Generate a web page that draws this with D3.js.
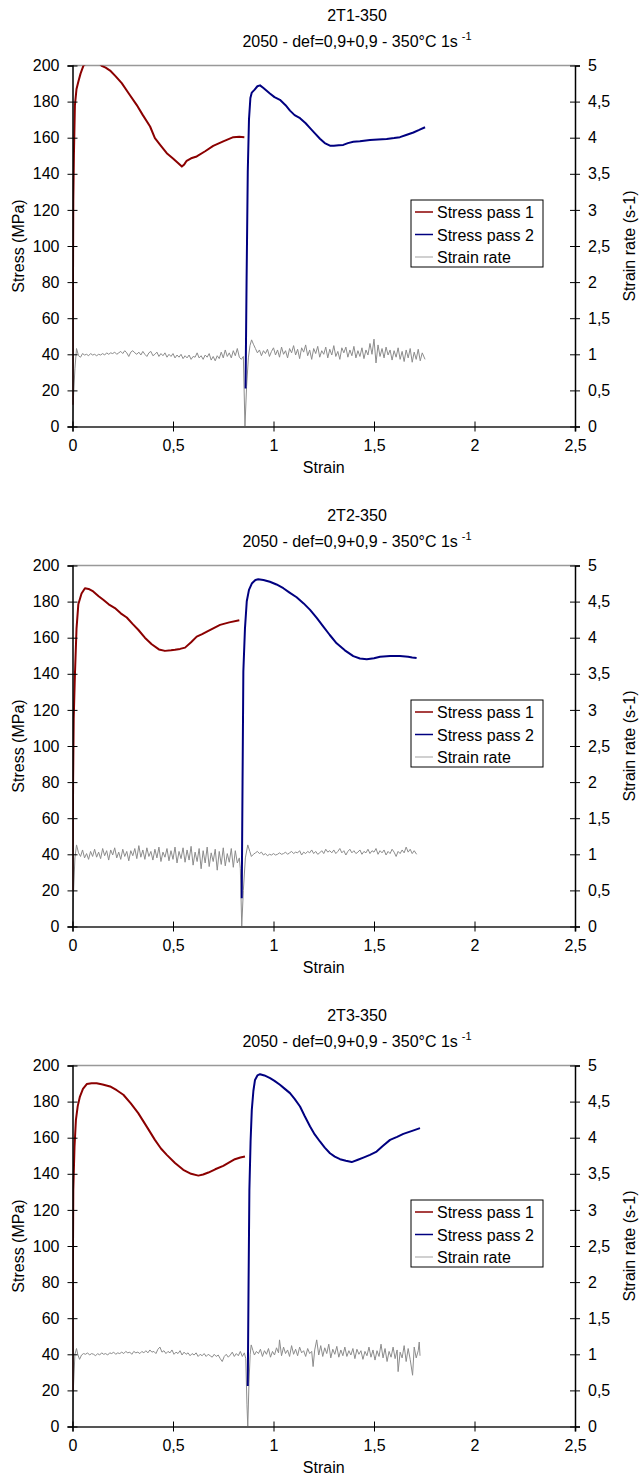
<!DOCTYPE html>
<html><head><meta charset="utf-8">
<script src="https://cdn.jsdelivr.net/npm/d3@7"></script>
<style>
body{margin:0;background:#fff;}
svg{display:block;font-family:"Liberation Sans",Arial,sans-serif;}
</style></head>
<body>
<svg id="chart" width="640" height="1479"></svg>
<script>
// ---------- data ----------
const titles = ["2T1-350", "2T2-350", "2T3-350"];
const subtitleMain = "2050 - def=0,9+0,9 - 350\u00B0C 1s";
const subtitleSup = "-1";
const seriesNames = ["Stress pass 1", "Stress pass 2", "Strain rate"];
const xTicks = [0, 0.5, 1, 1.5, 2, 2.5];
const yTicksLeft = [0, 20, 40, 60, 80, 100, 120, 140, 160, 180, 200];
const yTicksRight = [0, 0.5, 1, 1.5, 2, 2.5, 3, 3.5, 4, 4.5, 5];
const xLabel = "Strain";
const yLabelLeft = "Stress (MPa)";
const yLabelRight = "Strain rate (s-1)";

const c1Stress1 = [[0,12],[0.002,70],[0.004,125],[0.007,150],[0.012,178],[0.02,187],[0.029,191],[0.04,195.5],[0.054,199.8],[0.08,202.5],[0.11,203],[0.135,201],[0.145,199.8],[0.165,198.8],[0.187,197.2],[0.215,194],[0.245,190.2],[0.28,184.5],[0.319,178.2],[0.35,172.5],[0.386,166.2],[0.41,159.8],[0.44,155.5],[0.469,151.4],[0.5,148.5],[0.525,146],[0.544,144],[0.556,145.2],[0.568,147.2],[0.59,148.6],[0.618,149.6],[0.66,152.5],[0.7,155.5],[0.75,158],[0.8,160.3],[0.83,160.5],[0.855,160.3]];
const c1Stress2 = [[0.861,21],[0.866,80],[0.872,141],[0.878,170],[0.885,182],[0.892,185],[0.905,186.5],[0.92,188.5],[0.933,189],[0.95,187.5],[0.982,184.5],[1.005,182.5],[1.032,181],[1.06,178],[1.082,175],[1.105,172.5],[1.132,170.8],[1.16,168],[1.182,165.3],[1.205,162.5],[1.231,159.4],[1.255,157],[1.281,155.6],[1.3,155.5],[1.325,155.8],[1.347,156],[1.37,157],[1.397,157.8],[1.43,158],[1.46,158.5],[1.48,158.7],[1.52,159],[1.563,159.3],[1.6,159.8],[1.629,160.3],[1.66,161.5],[1.696,162.9],[1.725,164.3],[1.754,165.8]];
const c1Rate = [[0,0],[0.004,0.36],[0.012,0.8],[0.02,1.08],[0.03,0.98],[0.04,0.96],[0.05,1.01],[0.06,0.99],[0.07,1.0],[0.08,0.98],[0.09,1.01],[0.1,0.99],[0.11,1.0],[0.12,0.98],[0.13,1.0],[0.14,0.99],[0.15,1.01],[0.16,0.99],[0.17,1.02],[0.18,1.0],[0.19,1.02],[0.2,1.01],[0.21,1.03],[0.22,1.0],[0.23,1.02],[0.24,1.04],[0.25,1.01],[0.26,1.05],[0.27,1.02],[0.28,0.97],[0.29,1.03],[0.3,1.05],[0.31,1.02],[0.32,1.0],[0.33,1.03],[0.34,0.99],[0.35,1.04],[0.36,1.0],[0.37,0.97],[0.38,1.02],[0.39,1.04],[0.4,0.98],[0.41,1.0],[0.42,1.03],[0.43,0.97],[0.44,1.01],[0.45,0.98],[0.46,1.02],[0.47,0.96],[0.48,1.0],[0.49,0.97],[0.5,1.01],[0.51,0.95],[0.52,0.99],[0.53,0.96],[0.54,1.0],[0.55,0.94],[0.56,0.98],[0.57,0.95],[0.58,0.99],[0.59,0.93],[0.6,0.97],[0.61,0.96],[0.62,1.02],[0.63,0.95],[0.64,0.98],[0.65,0.93],[0.66,0.99],[0.67,0.96],[0.68,1.01],[0.69,0.92],[0.7,0.97],[0.71,0.91],[0.72,0.98],[0.73,0.94],[0.74,1.03],[0.75,0.95],[0.76,1.06],[0.77,0.97],[0.78,1.02],[0.79,0.95],[0.8,1.05],[0.81,0.98],[0.82,1.08],[0.83,0.96],[0.84,0.93],[0.85,0.97],[0.858,0],
[0.866,0.55],[0.875,0.95],[0.883,1.12],[0.891,1.2],[0.9,1.14],[0.91,1.08],[0.92,1.02],[0.93,1.06],[0.94,0.98],[0.95,1.05],[0.96,1.01],[0.97,1.07],[0.98,0.97],[0.99,1.04],[1.0,1.09],[1.01,0.99],[1.02,1.06],[1.03,0.96],[1.04,1.1],[1.05,1.0],[1.06,1.05],[1.07,0.95],[1.08,1.08],[1.09,1.02],[1.1,1.12],[1.11,0.99],[1.12,1.07],[1.13,0.94],[1.14,1.09],[1.15,1.03],[1.16,1.13],[1.17,0.98],[1.18,1.06],[1.19,0.93],[1.2,1.08],[1.21,1.01],[1.22,1.11],[1.23,0.96],[1.24,1.05],[1.25,1.0],[1.26,1.1],[1.27,0.95],[1.28,1.07],[1.29,0.99],[1.3,1.12],[1.31,0.97],[1.32,1.04],[1.33,0.93],[1.34,1.09],[1.35,1.02],[1.36,1.1],[1.37,0.96],[1.38,1.06],[1.39,0.98],[1.4,1.11],[1.41,0.95],[1.42,1.05],[1.43,0.97],[1.44,1.09],[1.45,0.94],[1.46,1.06],[1.47,0.99],[1.48,1.15],[1.49,1.0],[1.5,1.21],[1.51,0.88],[1.52,1.13],[1.53,0.97],[1.54,1.08],[1.55,0.95],[1.56,1.1],[1.57,0.99],[1.58,1.06],[1.59,0.92],[1.6,1.05],[1.61,0.96],[1.62,1.09],[1.63,0.93],[1.64,1.04],[1.65,0.9],[1.66,1.06],[1.67,0.95],[1.68,1.08],[1.69,0.89],[1.7,1.03],[1.71,0.93],[1.72,1.07],[1.73,0.91],[1.74,1.02],[1.754,0.93]];

const c2Stress1 = [[0,20],[0.003,80],[0.006,115],[0.012,139.4],[0.02,165],[0.029,178.5],[0.045,184.5],[0.062,187.4],[0.08,187],[0.103,185.6],[0.13,183],[0.153,181],[0.18,178.5],[0.211,176.4],[0.24,173.5],[0.27,171.2],[0.3,167.5],[0.327,164.4],[0.36,160],[0.394,156.4],[0.43,153.5],[0.46,152.7],[0.49,153],[0.51,153.3],[0.535,153.8],[0.56,154.5],[0.59,157.5],[0.618,160.6],[0.645,162],[0.676,163.8],[0.705,165.5],[0.734,167.1],[0.78,168.5],[0.83,169.7]];
const c2Stress2 = [[0.842,15.6],[0.846,80],[0.85,141.4],[0.858,165],[0.867,180.2],[0.878,186.5],[0.892,190],[0.91,192],[0.924,192.4],[0.95,192],[0.982,191],[1.015,189.5],[1.049,187.4],[1.08,185],[1.115,182.4],[1.15,179],[1.182,175.4],[1.215,171],[1.248,166.1],[1.28,161.5],[1.314,156.9],[1.355,153],[1.397,149.8],[1.43,148.5],[1.464,148],[1.5,148.6],[1.53,149.4],[1.58,149.8],[1.629,149.8],[1.67,149.4],[1.69,149],[1.712,148.7]];
const c2Rate = [[0,0],[0.004,0.4],[0.012,0.95],[0.02,1.13],[0.03,1.02],[0.04,0.97],[0.05,1.06],[0.06,0.95],[0.07,1.01],[0.08,0.93],[0.09,1.04],[0.1,0.97],[0.11,1.07],[0.12,0.96],[0.13,1.03],[0.14,0.94],[0.15,1.08],[0.16,0.98],[0.17,1.05],[0.18,0.92],[0.19,1.06],[0.2,0.99],[0.21,1.09],[0.22,0.95],[0.23,1.03],[0.24,0.93],[0.25,1.07],[0.26,0.97],[0.27,1.04],[0.28,0.91],[0.29,1.05],[0.3,0.98],[0.31,1.08],[0.32,0.94],[0.33,1.12],[0.34,0.96],[0.35,1.06],[0.36,0.93],[0.37,1.09],[0.38,0.97],[0.39,1.04],[0.4,0.92],[0.41,1.07],[0.42,0.95],[0.43,1.1],[0.44,0.9],[0.45,1.03],[0.46,0.96],[0.47,1.08],[0.48,0.91],[0.49,1.05],[0.5,0.93],[0.51,1.1],[0.52,0.88],[0.53,1.04],[0.54,0.94],[0.55,1.09],[0.56,0.89],[0.57,1.06],[0.58,0.92],[0.59,1.11],[0.6,0.85],[0.61,1.03],[0.62,0.9],[0.63,1.08],[0.64,0.8],[0.65,1.05],[0.66,0.88],[0.67,1.1],[0.68,0.83],[0.69,1.02],[0.7,0.9],[0.71,1.07],[0.72,0.78],[0.73,1.04],[0.74,0.86],[0.75,1.09],[0.76,0.84],[0.77,1.01],[0.78,0.89],[0.79,1.08],[0.8,0.82],[0.81,1.05],[0.82,0.88],[0.83,0.95],[0.835,0.8],[0.842,0],
[0.85,0.5],[0.86,0.95],[0.872,1.13],[0.882,1.04],[0.89,0.97],[0.9,1.0],[0.91,1.02],[0.92,1.04],[0.93,1.01],[0.94,1.03],[0.95,0.99],[0.96,1.01],[0.97,0.98],[0.98,1.0],[0.99,0.99],[1.0,1.01],[1.01,0.99],[1.02,1.0],[1.03,1.02],[1.04,1.0],[1.05,1.01],[1.06,1.03],[1.07,1.0],[1.08,1.02],[1.09,1.04],[1.1,1.01],[1.11,1.03],[1.12,1.02],[1.13,1.05],[1.14,0.99],[1.15,1.03],[1.16,1.01],[1.17,1.04],[1.18,1.02],[1.19,1.06],[1.2,1.01],[1.21,1.04],[1.22,1.0],[1.23,1.02],[1.24,1.05],[1.25,1.01],[1.26,1.07],[1.27,1.03],[1.28,1.05],[1.29,1.02],[1.3,1.06],[1.31,1.01],[1.32,1.04],[1.33,1.08],[1.34,1.02],[1.35,1.05],[1.36,0.99],[1.37,1.04],[1.38,1.07],[1.39,1.02],[1.4,1.05],[1.41,1.01],[1.42,1.03],[1.43,1.06],[1.44,1.0],[1.45,1.04],[1.46,1.02],[1.47,1.07],[1.48,1.01],[1.49,1.05],[1.5,1.03],[1.51,1.08],[1.52,1.0],[1.53,1.05],[1.54,1.02],[1.55,1.06],[1.56,0.99],[1.57,1.04],[1.58,1.01],[1.59,1.07],[1.6,1.03],[1.61,0.97],[1.62,1.04],[1.63,1.01],[1.64,1.06],[1.65,1.02],[1.66,1.1],[1.67,1.03],[1.68,1.07],[1.69,1.01],[1.7,1.05],[1.712,1.0]];

const c3Stress1 = [[0,20],[0.002,90],[0.004,131],[0.01,155],[0.017,169.9],[0.026,177.5],[0.037,182.8],[0.052,187],[0.071,189.7],[0.095,190.2],[0.12,190.2],[0.15,189.5],[0.187,188.4],[0.22,186.3],[0.253,183.8],[0.29,179],[0.327,173.6],[0.37,166],[0.41,158.8],[0.44,154],[0.469,150.5],[0.51,146],[0.551,142.2],[0.59,140],[0.626,139],[0.65,139.6],[0.676,140.7],[0.71,142.5],[0.75,144.4],[0.78,146.3],[0.808,148.1],[0.835,149],[0.858,149.6]];
const c3Stress2 = [[0.872,22.4],[0.876,80],[0.88,131],[0.886,158],[0.892,175.4],[0.9,186],[0.908,192],[0.92,194.5],[0.933,195.2],[0.955,194.5],[0.983,193],[1.005,191.5],[1.032,189.3],[1.055,187.2],[1.082,184.7],[1.105,181.5],[1.132,177.3],[1.155,172],[1.182,166.2],[1.205,161.8],[1.231,157.9],[1.255,154.5],[1.281,151.4],[1.305,149.5],[1.331,148.1],[1.36,147.2],[1.389,146.5],[1.42,147.8],[1.447,149],[1.48,150.5],[1.513,152.3],[1.545,155.5],[1.58,158.8],[1.615,160.5],[1.646,162.1],[1.69,163.8],[1.729,165.3]];
const c3Rate = [[0,0],[0.004,0.5],[0.012,1.0],[0.02,1.08],[0.026,1.0],[0.035,0.93],[0.045,0.99],[0.055,1.01],[0.065,1.0],[0.075,1.02],[0.085,0.99],[0.095,1.01],[0.105,1.0],[0.115,0.98],[0.125,1.01],[0.135,0.99],[0.145,1.02],[0.155,1.0],[0.165,1.01],[0.175,0.99],[0.185,1.02],[0.195,1.01],[0.205,1.03],[0.215,1.0],[0.225,1.02],[0.235,1.01],[0.245,1.03],[0.255,1.01],[0.265,1.04],[0.275,1.02],[0.285,1.03],[0.295,1.0],[0.305,1.04],[0.315,1.02],[0.325,1.03],[0.335,1.01],[0.345,1.04],[0.355,1.02],[0.365,1.05],[0.375,1.02],[0.385,1.06],[0.395,1.03],[0.405,1.04],[0.415,1.01],[0.425,1.07],[0.435,1.1],[0.445,1.03],[0.455,1.05],[0.465,1.01],[0.475,1.04],[0.485,1.02],[0.495,1.06],[0.505,1.0],[0.515,1.03],[0.525,1.01],[0.535,1.05],[0.545,0.99],[0.555,1.03],[0.565,1.0],[0.575,1.02],[0.585,0.98],[0.595,1.01],[0.605,0.99],[0.615,1.02],[0.625,0.97],[0.635,1.0],[0.645,0.98],[0.655,1.01],[0.665,0.97],[0.675,1.0],[0.685,0.98],[0.695,0.96],[0.705,1.0],[0.715,0.97],[0.725,0.99],[0.735,0.94],[0.745,0.9],[0.755,0.97],[0.765,1.0],[0.775,0.96],[0.785,0.99],[0.795,1.03],[0.805,0.97],[0.815,1.01],[0.825,0.98],[0.835,1.04],[0.845,0.97],[0.855,1.02],[0.862,0.94],[0.868,0.3],[0.872,0],
[0.878,0.6],[0.884,1.0],[0.889,1.13],[0.898,1.05],[0.905,0.99],[0.915,1.04],[0.925,1.01],[0.935,1.07],[0.945,0.97],[0.955,1.05],[0.965,1.0],[0.975,1.08],[0.985,0.96],[0.995,1.04],[1.005,0.99],[1.015,1.09],[1.025,1.02],[1.03,1.2],[1.04,0.98],[1.05,1.1],[1.06,1.01],[1.07,1.06],[1.08,0.97],[1.09,1.12],[1.1,1.0],[1.11,1.07],[1.12,0.98],[1.13,1.1],[1.14,1.02],[1.15,1.05],[1.16,0.97],[1.17,1.08],[1.18,1.01],[1.19,1.04],[1.197,0.83],[1.205,1.06],[1.215,1.2],[1.225,0.99],[1.235,1.12],[1.245,0.97],[1.255,1.09],[1.265,1.01],[1.275,1.14],[1.285,0.95],[1.295,1.07],[1.305,1.0],[1.315,1.11],[1.325,0.96],[1.335,1.06],[1.345,0.98],[1.355,1.1],[1.365,0.97],[1.375,1.05],[1.385,0.99],[1.395,1.08],[1.405,0.94],[1.415,1.07],[1.425,1.0],[1.435,1.05],[1.445,0.93],[1.455,1.04],[1.465,0.98],[1.475,1.1],[1.485,0.96],[1.495,1.06],[1.505,0.92],[1.515,1.05],[1.525,0.97],[1.535,1.14],[1.545,0.95],[1.555,1.08],[1.565,0.9],[1.575,1.04],[1.585,0.96],[1.595,1.1],[1.605,0.94],[1.615,1.06],[1.62,0.76],[1.63,1.03],[1.64,0.95],[1.65,1.12],[1.66,0.9],[1.67,1.08],[1.68,0.93],[1.692,0.71],[1.7,1.1],[1.71,0.95],[1.72,1.05],[1.725,1.17],[1.729,0.98]];

const stress1Sets = [c1Stress1, c2Stress1, c3Stress1];
const stress2Sets = [c1Stress2, c2Stress2, c3Stress2];
const rateSets = [c1Rate, c2Rate, c3Rate];

// ---------- drawing ----------
const colRed = "#8b0000", colBlue = "#000080", colGrey = "#8c8c8c";
const svg = d3.select("#chart");
const fmt = d => String(d).replace(".", ",");
const left = 72.5, right = 575, blockH = 500, top0 = 65.5, plotH = 361;

titles.forEach((title, i) => {
  const off = i * blockH;
  const g = svg.append("g").attr("transform", `translate(0,${off})`);
  const x = d3.scaleLinear().domain([0, 2.5]).range([left, right]);
  const y = d3.scaleLinear().domain([0, 200]).range([top0 + plotH, top0]);
  const y2 = d3.scaleLinear().domain([0, 5]).range([top0 + plotH, top0]);

  // titles
  g.append("text").attr("x", 357).attr("y", 21).attr("text-anchor", "middle")
    .attr("font-size", 16).attr("fill", "#000").text(title);
  const st = g.append("text").attr("x", 357).attr("y", 47).attr("text-anchor", "middle")
    .attr("font-size", 16).attr("fill", "#000");
  st.append("tspan").text(subtitleMain);
  st.append("tspan").attr("dx", 4).attr("dy", -7).attr("font-size", 11).text(subtitleSup);

  // top border
  g.append("line").attr("x1", left).attr("x2", right).attr("y1", top0).attr("y2", top0)
    .attr("stroke", "#999").attr("stroke-width", 1.5);

  // clip
  const cid = "clip" + i;
  g.append("clipPath").attr("id", cid).append("rect")
    .attr("x", left).attr("y", top0).attr("width", right - left).attr("height", plotH);

  const plot = g.append("g").attr("clip-path", `url(#${cid})`);
  const lineS = d3.line().x(d => x(d[0])).y(d => y(d[1]));
  const lineR = d3.line().x(d => x(d[0])).y(d => y2(d[1]));

  plot.append("path").datum(rateSets[i]).attr("d", lineR)
    .attr("fill", "none").attr("stroke", colGrey).attr("stroke-width", 1);
  plot.append("path").datum(stress1Sets[i]).attr("d", lineS)
    .attr("fill", "none").attr("stroke", colRed).attr("stroke-width", 2).attr("stroke-linejoin", "round");
  plot.append("path").datum(stress2Sets[i]).attr("d", lineS)
    .attr("fill", "none").attr("stroke", colBlue).attr("stroke-width", 2).attr("stroke-linejoin", "round");

  // bottom axis
  const xa = g.append("g").attr("transform", `translate(0,${top0 + plotH})`)
    .call(d3.axisBottom(x).tickValues(xTicks).tickFormat(fmt).tickSize(5).tickPadding(8));
  xa.select(".domain").attr("stroke", "#555").attr("stroke-width", 2);
  xa.selectAll(".tick line").attr("y1", -5).attr("y2", 5).attr("stroke", "#000");
  xa.selectAll(".tick text").attr("font-size", 16).attr("font-family", "Liberation Sans, Arial, sans-serif").attr("fill", "#000");

  // left axis
  const ya = g.append("g").attr("transform", `translate(${left},0)`)
    .call(d3.axisLeft(y).tickValues(yTicksLeft).tickSize(5).tickPadding(8));
  ya.select(".domain").attr("stroke", "#000").attr("stroke-width", 1.5);
  ya.selectAll(".tick line").attr("x1", -5).attr("x2", 5).attr("stroke", "#000");
  ya.selectAll(".tick text").attr("font-size", 16).attr("font-family", "Liberation Sans, Arial, sans-serif").attr("fill", "#000");

  // right axis
  const ra = g.append("g").attr("transform", `translate(${right},0)`)
    .call(d3.axisRight(y2).tickValues(yTicksRight).tickFormat(fmt).tickSize(5).tickPadding(8));
  ra.select(".domain").attr("stroke", "#000").attr("stroke-width", 1.5);
  ra.selectAll(".tick line").attr("x1", -5).attr("x2", 5).attr("stroke", "#000");
  ra.selectAll(".tick text").attr("font-size", 16).attr("font-family", "Liberation Sans, Arial, sans-serif").attr("fill", "#000");

  // axis titles
  g.append("text").attr("x", (left + right) / 2).attr("y", top0 + plotH + 46)
    .attr("text-anchor", "middle").attr("font-size", 16).text(xLabel);
  g.append("text").attr("transform", `translate(24,${top0 + plotH / 2}) rotate(-90)`)
    .attr("text-anchor", "middle").attr("font-size", 16).text(yLabelLeft);
  g.append("text").attr("transform", `translate(635,${top0 + plotH / 2}) rotate(-90)`)
    .attr("text-anchor", "middle").attr("font-size", 16).text(yLabelRight);

  // legend
  const lg = g.append("g").attr("transform", "translate(411,200)");
  lg.append("rect").attr("x", 0).attr("y", 0).attr("width", 132).attr("height", 67)
    .attr("fill", "#fff").attr("stroke", "#000").attr("stroke-width", 1);
  const legCols = [colRed, colBlue, "#c0c0c0"];
  seriesNames.forEach((n, k) => {
    const cy = 12 + k * 22.5;
    lg.append("line").attr("x1", 4).attr("x2", 22).attr("y1", cy).attr("y2", cy)
      .attr("stroke", legCols[k]).attr("stroke-width", 1.5);
    lg.append("text").attr("x", 26).attr("y", cy + 6).attr("font-size", 16).text(n);
  });
});
</script>
</body></html>
